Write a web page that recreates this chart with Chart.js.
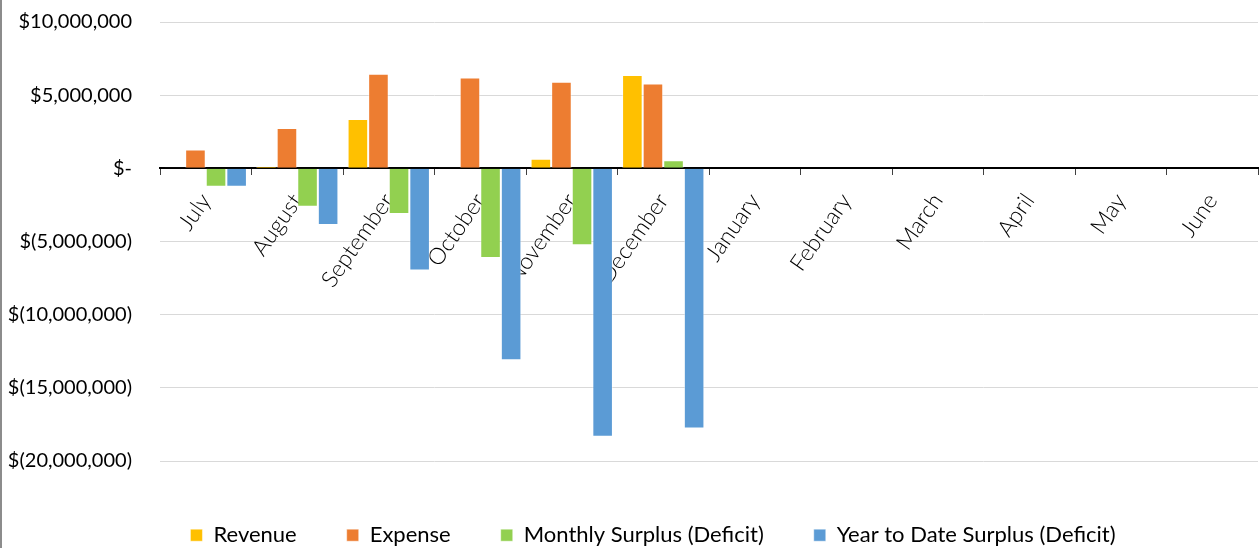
<!DOCTYPE html>
<html>
<head>
<meta charset="utf-8">
<script src="https://cdn.jsdelivr.net/npm/chart.js@4.4.0/dist/chart.umd.min.js"></script>
<style>
    html, body { margin: 0; padding: 0; background: #fff; }
    #wrap { position: relative; width: 1260px; height: 548px; }
</style>
</head>
<body>
<div id="wrap"><canvas id="budgetChart"></canvas></div>
<script>
// Chart data
const months = ['July', 'August', 'September', 'October', 'November', 'December',
    'January', 'February', 'March', 'April', 'May', 'June'];
const revenue = [30000, 160000, 3370000, 50000, 660000, 6370000, null, null, null, null, null, null];
const expense = [1280000, 2750000, 6470000, 6200000, 5920000, 5790000, null, null, null, null, null, null];
const monthlySurplus = [-1250000, -2620000, -3120000, -6130000, -5260000, 550000, null, null, null, null, null, null];
const ytdSurplus = [-1250000, -3870000, -6990000, -13120000, -18350000, -17780000, null, null, null, null, null, null];
const yTicks = [-20000000, -15000000, -10000000, -5000000, 0, 5000000, 10000000];

function money(v) {
    if (v === 0) return '$-';
    const s = Math.abs(v).toLocaleString('en-US');
    return v < 0 ? '$(' + s + ')' : '$' + s;
}

// left frame line of the chart box
const frameLine = {
    id: 'frameLine',
    afterDraw(chart) {
        const ctx = chart.ctx;
        ctx.save();
        ctx.strokeStyle = '#8c8c8c';
        ctx.lineWidth = 2;
        ctx.beginPath();
        ctx.moveTo(1, 0);
        ctx.lineTo(1, chart.height);
        ctx.stroke();
        ctx.restore();
    }
};

// fixed legend height so the plot ends at the -20M line, legend nudged right
const legendTweak = {
    id: 'legendTweak',
    beforeInit(chart) {
        const lg = chart.legend;
        const fit = lg.fit;
        lg.fit = function () {
            fit.bind(lg)();
            this.height = 87;
        };
        const draw = lg.draw;
        lg.draw = function () {
            chart.ctx.save();
            chart.ctx.translate(24, 0);
            draw.bind(lg)();
            chart.ctx.restore();
        };
    }
};

const edge = 'rgba(255,255,255,0.45)';

new Chart(document.getElementById('budgetChart'), {
    type: 'bar',
    data: {
        labels: months,
        datasets: [
            { label: 'Revenue', data: revenue, backgroundColor: '#FFC000', borderColor: edge, borderWidth: 1 },
            { label: 'Expense', data: expense, backgroundColor: '#ED7D31', borderColor: edge, borderWidth: 1 },
            { label: 'Monthly Surplus (Deficit)', data: monthlySurplus, backgroundColor: '#92D050', borderColor: edge, borderWidth: 1 },
            { label: 'Year to Date Surplus (Deficit)', data: ytdSurplus, backgroundColor: '#5B9BD5', borderColor: edge, borderWidth: 1 }
        ]
    },
    options: {
        responsive: true,
        maintainAspectRatio: false,
        animation: false,
        categoryPercentage: 0.9,
        barPercentage: 1.0,
        layout: { padding: { top: 22, right: 2, left: 0, bottom: 0 } },
        plugins: {
            tooltip: { enabled: false },
            legend: {
                position: 'bottom',
                title: { display: true, text: ' ', font: { size: 1 }, padding: { top: 12, bottom: 0 } },
                labels: {
                    boxWidth: 12,
                    boxHeight: 12,
                    padding: 50,
                    color: '#000',
                    font: { family: 'Lato', size: 22 }
                }
            }
        },
        scales: {
            x: {
                position: { y: 0 },
                grid: {
                    offset: true,
                    drawOnChartArea: false,
                    drawTicks: true,
                    tickLength: 6,
                    color: '#404040',
                    lineWidth: 1
                },
                border: { display: true, color: '#000', width: 2 },
                ticks: {
                    autoSkip: false,
                    minRotation: 55,
                    maxRotation: 55,
                    padding: 14,
                    color: '#000',
                    font: { family: 'Lato', size: 23, weight: '300' }
                }
            },
            y: {
                min: -20000000,
                max: 10000000,
                afterFit(scale) {
                    scale.width = 160;
                    scale.paddingTop = 0;
                    scale.paddingBottom = 0;
                },
                afterBuildTicks(scale) { scale.ticks = yTicks.map(v => ({ value: v })); },
                grid: { color: '#d9d9d9', lineWidth: 1, drawTicks: false },
                border: { display: false },
                ticks: {
                    padding: 28,
                    color: '#000',
                    font: { family: 'Lato', size: 20 },
                    callback: v => money(v)
                }
            }
        }
    },
    plugins: [frameLine, legendTweak]
});
</script>
</body>
</html>
